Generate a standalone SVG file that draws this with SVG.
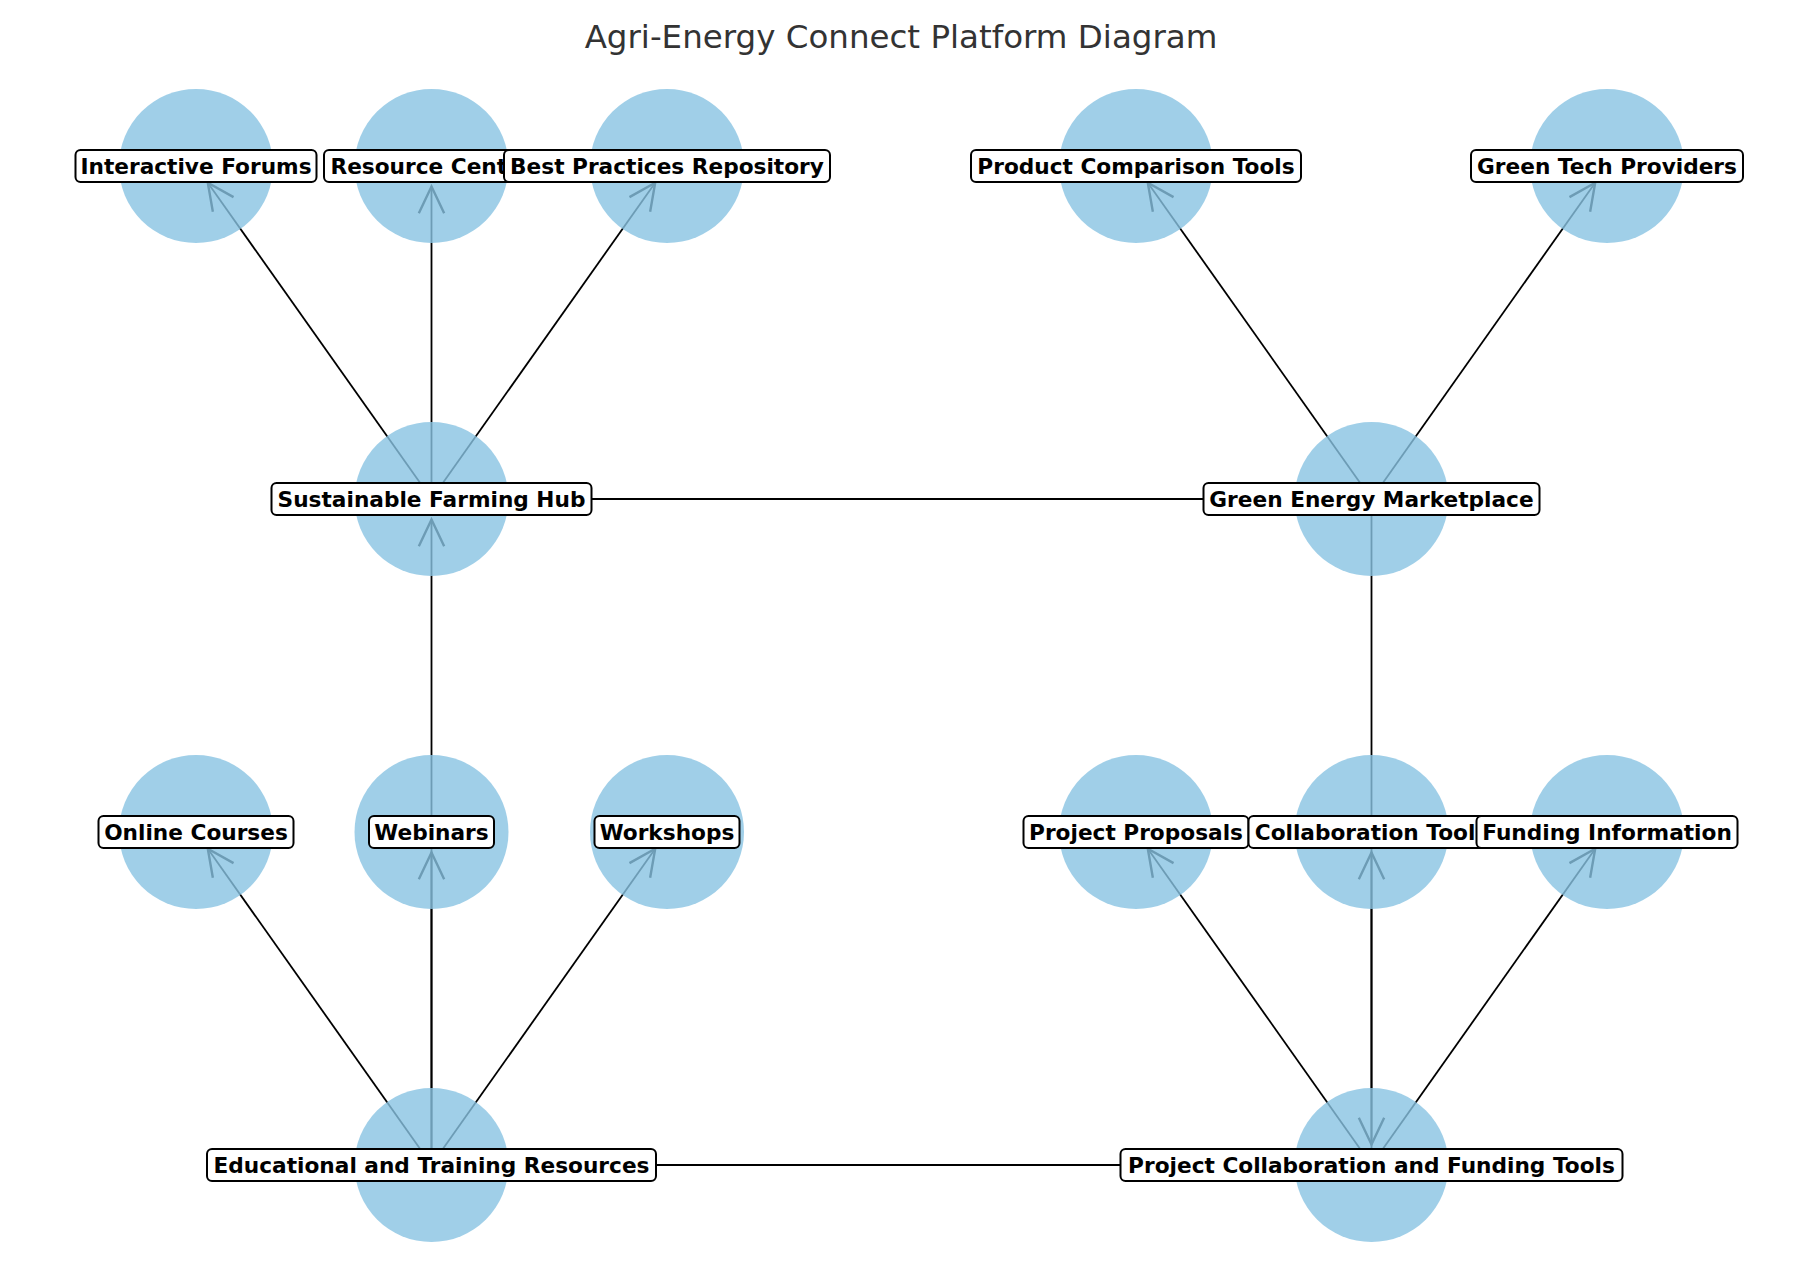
<svg xmlns="http://www.w3.org/2000/svg" width="1810" height="1272" viewBox="0 0 1810 1272">
<style>
.node circle{fill:#88C3E2;fill-opacity:0.8}
.node rect{fill:#fff;stroke:#000;stroke-width:2}
.node text{font-family:"DejaVu Sans",Verdana,sans-serif;font-weight:bold;font-size:21.67px;fill:#000;text-anchor:middle}
#edges line{stroke:#000;stroke-width:1.8}
.title{font-family:"DejaVu Sans",Verdana,sans-serif;font-size:32.5px;fill:#333;text-anchor:middle}
</style>
<defs>
<marker id="arr" markerUnits="userSpaceOnUse" markerWidth="40" markerHeight="40" viewBox="-5 -15 30 30" refX="20" refY="0" orient="auto" overflow="visible">
<path d="M0,-9.5 L20,0 L0,9.5" fill="none" stroke="#000" stroke-width="1.8" stroke-linejoin="miter"/>
</marker>
</defs>
<rect width="1810" height="1272" fill="#fff"/>
<text class="title" x="901" y="48">Agri-Energy Connect Platform Diagram</text>
<g id="edges">
<line x1="431.5" y1="499" x2="1371.5" y2="499"/>
<line x1="431.5" y1="1165" x2="1371.5" y2="1165"/>
<line x1="431.5" y1="499" x2="207.8" y2="182.7" marker-end="url(#arr)"/>
<line x1="431.5" y1="499" x2="431.5" y2="186.5" marker-end="url(#arr)"/>
<line x1="431.5" y1="499" x2="655.2" y2="182.7" marker-end="url(#arr)"/>
<line x1="1371.5" y1="499" x2="1147.8" y2="182.7" marker-end="url(#arr)"/>
<line x1="1371.5" y1="499" x2="1595.2" y2="182.7" marker-end="url(#arr)"/>
<line x1="431.5" y1="1165" x2="207.8" y2="848.7" marker-end="url(#arr)"/>
<line x1="431.5" y1="1165" x2="431.5" y2="852.5" marker-end="url(#arr)"/>
<line x1="431.5" y1="1165" x2="655.2" y2="848.7" marker-end="url(#arr)"/>
<line x1="1371.5" y1="1165" x2="1147.8" y2="848.7" marker-end="url(#arr)"/>
<line x1="1371.5" y1="1165" x2="1371.5" y2="852.5" marker-end="url(#arr)"/>
<line x1="1371.5" y1="1165" x2="1595.2" y2="848.7" marker-end="url(#arr)"/>
<line x1="431.5" y1="1165" x2="431.5" y2="519.5" marker-end="url(#arr)"/>
<line x1="1371.5" y1="499" x2="1371.5" y2="1144.5" marker-end="url(#arr)"/>
</g>
<g id="n-interactive-forums" class="node"><circle cx="196" cy="166" r="77"/><rect x="75.5" y="150" width="241" height="32" rx="5"/><text x="196" y="173.5">Interactive Forums</text></g>
<g id="n-resource-center" class="node"><circle cx="431.5" cy="166" r="77"/><rect x="324" y="150" width="215" height="32" rx="5"/><text x="431.5" y="173.5">Resource Center</text></g>
<g id="n-best-practices" class="node"><circle cx="667" cy="166" r="77"/><rect x="504" y="150" width="326" height="32" rx="5"/><text x="667" y="173.5">Best Practices Repository</text></g>
<g id="n-product-comparison" class="node"><circle cx="1136" cy="166" r="77"/><rect x="971" y="150" width="330" height="32" rx="5"/><text x="1136" y="173.5">Product Comparison Tools</text></g>
<g id="n-green-tech" class="node"><circle cx="1607" cy="166" r="77"/><rect x="1471" y="150" width="272" height="32" rx="5"/><text x="1607" y="173.5">Green Tech Providers</text></g>
<g id="n-sustainable-hub" class="node"><circle cx="431.5" cy="499" r="77"/><rect x="271.5" y="483" width="320" height="32" rx="5"/><text x="431.5" y="506.5">Sustainable Farming Hub</text></g>
<g id="n-green-energy-market" class="node"><circle cx="1371.5" cy="499" r="77"/><rect x="1203.5" y="483" width="336" height="32" rx="5"/><text x="1371.5" y="506.5">Green Energy Marketplace</text></g>
<g id="n-online-courses" class="node"><circle cx="196" cy="832" r="77"/><rect x="98.5" y="816" width="195" height="32" rx="5"/><text x="196" y="839.5">Online Courses</text></g>
<g id="n-webinars" class="node"><circle cx="431.5" cy="832" r="77"/><rect x="369" y="816" width="125" height="32" rx="5"/><text x="431.5" y="839.5">Webinars</text></g>
<g id="n-workshops" class="node"><circle cx="667" cy="832" r="77"/><rect x="594.5" y="816" width="145" height="32" rx="5"/><text x="667" y="839.5">Workshops</text></g>
<g id="n-project-proposals" class="node"><circle cx="1136" cy="832" r="77"/><rect x="1023.5" y="816" width="225" height="32" rx="5"/><text x="1136" y="839.5">Project Proposals</text></g>
<g id="n-collaboration-tools" class="node"><circle cx="1371.5" cy="832" r="77"/><rect x="1248.5" y="816" width="246" height="32" rx="5"/><text x="1371.5" y="839.5">Collaboration Tools</text></g>
<g id="n-funding-info" class="node"><circle cx="1607" cy="832" r="77"/><rect x="1476.5" y="816" width="261" height="32" rx="5"/><text x="1607" y="839.5">Funding Information</text></g>
<g id="n-educational" class="node"><circle cx="431.5" cy="1165" r="77"/><rect x="207" y="1149" width="449" height="32" rx="5"/><text x="431.5" y="1172.5">Educational and Training Resources</text></g>
<g id="n-project-collab" class="node"><circle cx="1371.5" cy="1165" r="77"/><rect x="1120.5" y="1149" width="502" height="32" rx="5"/><text x="1371.5" y="1172.5">Project Collaboration and Funding Tools</text></g>
</svg>
